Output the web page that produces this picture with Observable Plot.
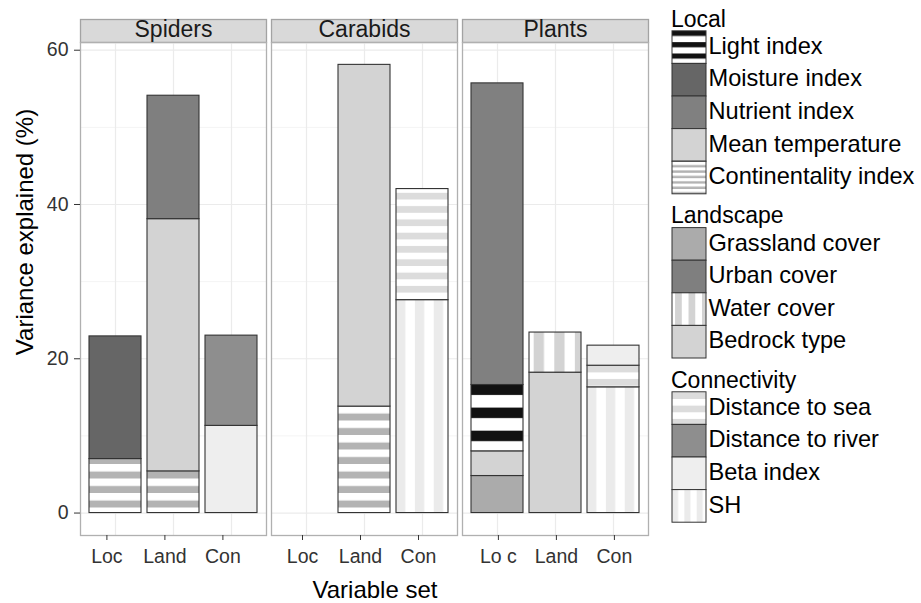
<!DOCTYPE html>
<html><head><meta charset="utf-8">
<script src="https://cdn.jsdelivr.net/npm/d3@7"></script>
<script src="https://cdn.jsdelivr.net/npm/@observablehq/plot@0.6"></script>
<style>
html,body{margin:0;padding:0;background:#fff;}
#wrap{position:relative;width:921px;height:603px;font-family:"Liberation Sans",Arial,sans-serif;}
#wrap svg{position:absolute;left:0;top:0;}
</style></head><body><div id="wrap"></div>
<script>
// ---- data ----
const taxa = ["Spiders", "Carabids", "Plants"];
const sets = ["Loc", "Land", "Con"];
const tickLabelsSpiders = ["Loc", "Land", "Con"];
const tickLabelsCarabids = ["Loc", "Land", "Con"];
const tickLabelsPlants = ["Lo c", "Land", "Con"];
const yTicks = [0, 20, 40, 60];
const yMinorTicks = [10, 30, 50];

const segTaxon = ["Spiders","Spiders","Spiders","Spiders","Spiders","Spiders","Spiders",
  "Carabids","Carabids","Carabids","Carabids",
  "Plants","Plants","Plants","Plants","Plants","Plants","Plants","Plants","Plants"];
const segSet = ["Loc","Loc","Land","Land","Land","Con","Con",
  "Land","Land","Con","Con",
  "Loc","Loc","Loc","Loc","Land","Land","Con","Con","Con"];
const segVariable = ["Continentality index","Moisture index","Continentality index","Bedrock type","Urban cover","Beta index","Distance to river",
  "Continentality index","Bedrock type","SH","Distance to sea",
  "Grassland cover","Mean temperature","Light index","Nutrient index","Bedrock type","Water cover","SH","Distance to sea","Beta index"];
const segValue = [7.0, 15.9, 5.4, 32.7, 16.0, 11.3, 11.7,
  13.8, 44.3, 27.6, 14.4,
  4.8, 3.2, 8.6, 39.1, 18.2, 5.2, 16.3, 2.8, 2.6];

const legendTitles = ["Local", "Landscape", "Connectivity"];
const legendLocal = ["Light index","Moisture index","Nutrient index","Mean temperature","Continentality index"];
const legendLandscape = ["Grassland cover","Urban cover","Water cover","Bedrock type"];
const legendConnectivity = ["Distance to sea","Distance to river","Beta index","SH"];

// ---- styling ----
const variables = ["Light index","Moisture index","Nutrient index","Mean temperature","Continentality index",
  "Grassland cover","Urban cover","Water cover","Bedrock type",
  "Distance to sea","Distance to river","Beta index","SH"];
const fills = ["url(#p-light)","#666666","#808080","#d3d3d3","url(#p-cont)",
  "#ababab","#7f7f7f","url(#p-water)","#d3d3d3",
  "url(#p-sea)","#8e8e8e","#eeeeee","url(#p-sh)"];
const legendFill = v => { const f = fills[variables.indexOf(v)]; return f === "url(#p-cont)" ? "url(#p-cont-l)" : f; };

const FONT = '"Liberation Sans", Arial, sans-serif';
const wrap = d3.select("#wrap");

// pattern defs
const defsSvg = wrap.append("svg").attr("width", 0).attr("height", 0);
const defs = defsSvg.append("defs");
function hStripes(id, period, band, color, offset) {
  const p = defs.append("pattern").attr("id", id).attr("patternUnits", "userSpaceOnUse")
    .attr("x", 0).attr("y", offset).attr("width", 10).attr("height", period);
  p.append("rect").attr("width", 10).attr("height", period).attr("fill", "#fff");
  p.append("rect").attr("y", period - band).attr("width", 10).attr("height", band).attr("fill", color);
}
function bboxStripes(id, vertical, x0, size, band, color, bg) {
  const p = defs.append("pattern").attr("id", id)
    .attr("patternUnits", "objectBoundingBox").attr("patternContentUnits", "objectBoundingBox");
  if (vertical) {
    p.attr("x", x0).attr("y", 0).attr("width", size).attr("height", 1);
    p.append("rect").attr("width", size).attr("height", 1).attr("fill", bg);
    p.append("rect").attr("width", band).attr("height", 1).attr("fill", color);
  } else {
    p.attr("x", 0).attr("y", x0).attr("width", 1).attr("height", size);
    p.append("rect").attr("width", 1).attr("height", size).attr("fill", bg);
    p.append("rect").attr("width", 1).attr("height", band).attr("fill", color);
  }
}
hStripes("p-cont", 14.5, 7, "#b3b3b3", 0);
hStripes("p-cont-l", 5.4, 2.4, "#b3b3b3", 0);
hStripes("p-sea", 13.3, 6.7, "#dcdcdc", 0);
bboxStripes("p-light", false, 0, 0.348, 0.158, "#111111", "#ffffff");
bboxStripes("p-sh", true, 0, 0.363, 0.18, "#ebebeb", "#ffffff");
bboxStripes("p-water", true, 0.09, 0.396, 0.198, "#d3d3d3", "#ffffff");

// rows with stacked extents
const rows = segTaxon.map((t, i) => ({taxon: t, set: segSet[i], variable: segVariable[i], value: segValue[i]}));
const acc = new Map();
for (const r of rows) {
  const k = r.taxon + "|" + r.set;
  const b = acc.get(k) || 0;
  r.y1 = b; r.y2 = b + r.value; acc.set(k, r.y2);
  r.fill = fills[variables.indexOf(r.variable)];
}

const tickLabels = {Spiders: tickLabelsSpiders, Carabids: tickLabelsCarabids, Plants: tickLabelsPlants};
const tickShift = {Spiders: -8.6, Carabids: -4, Plants: 0.9};

const chart = Plot.plot({
  width: 665, height: 603,
  marginLeft: 80, marginRight: 17, marginTop: 42, marginBottom: 68,
  style: {fontFamily: FONT, fontSize: "19.5px", color: "#333", background: "transparent", overflow: "visible"},
  fx: {domain: taxa, paddingInner: 5 / 191, paddingOuter: 0, axis: null, label: null},
  x: {domain: sets, paddingInner: 0.1, paddingOuter: 0.15, label: null},
  y: {domain: [-2.91, 61.0], label: null},
  color: {type: "identity"},
  marks: [
    Plot.frame({fill: "#d9d9d9", stroke: "#a3a3a3", strokeWidth: 1.3, insetTop: -23, insetBottom: 493}),
    Plot.gridY(yMinorTicks, {stroke: "#f4f4f4", strokeOpacity: 1, strokeWidth: 1}),
    Plot.gridY(yTicks, {stroke: "#ebebeb", strokeOpacity: 1, strokeWidth: 1.2}),
    Plot.gridX(sets, {stroke: "#ebebeb", strokeOpacity: 1, strokeWidth: 1.2}),
    Plot.barY(rows, {fx: "taxon", x: "set", y1: "y1", y2: "y2", fill: "fill", stroke: "#333", strokeWidth: 1.1}),
    Plot.frame({stroke: "#b0b0b0", strokeWidth: 1.3}),
    Plot.text(taxa, {fx: d => d, text: d => d, frameAnchor: "top", dy: -12.5, lineAnchor: "middle", fontSize: 23, fill: "#1a1a1a"}),
    Plot.axisY(yTicks, {tickSize: 6, tickPadding: 6, fontSize: 19.5, label: null, color: "#333"}),
    ...taxa.map(t => Plot.axisX(sets, {
      fx: () => t, dx: tickShift[t], tickSize: 5, tickPadding: 9, fontSize: 19.5, label: null, color: "#333",
      tickFormat: d => tickLabels[t][sets.indexOf(d)]
    }))
  ]
});
wrap.node().appendChild(chart);

// overlay: axis titles and legend
const ov = wrap.append("svg").attr("width", 921).attr("height", 603)
  .style("font-family", FONT).style("pointer-events", "none");
ov.append("text").attr("x", 375).attr("y", 598).attr("text-anchor", "middle")
  .attr("font-size", 24).attr("fill", "#000").text("Variable set");
ov.append("text").attr("transform", "translate(33,232) rotate(-90)").attr("text-anchor", "middle")
  .attr("font-size", 24).attr("fill", "#000").text("Variance explained (%)");

const groups = [legendLocal, legendLandscape, legendConnectivity];
const keyX = 672, keyW = 34, keyH = 32.6;
let base = 26.5;
groups.forEach((items, gi) => {
  ov.append("text").attr("x", 671).attr("y", base).attr("font-size", 23).attr("fill", "#000").text(legendTitles[gi]);
  let top = base + 4.3;
  items.forEach(v => {
    ov.append("rect").attr("x", keyX).attr("y", top).attr("width", keyW).attr("height", keyH)
      .attr("fill", legendFill(v)).attr("stroke", "#333").attr("stroke-width", 1);
    ov.append("text").attr("x", keyX + keyW + 2.5).attr("y", top + keyH / 2 + 6.7)
      .attr("font-size", 23.6).attr("fill", "#000").text(v);
    top += keyH;
  });
  base = top + 29.5;
});
</script></body></html>
